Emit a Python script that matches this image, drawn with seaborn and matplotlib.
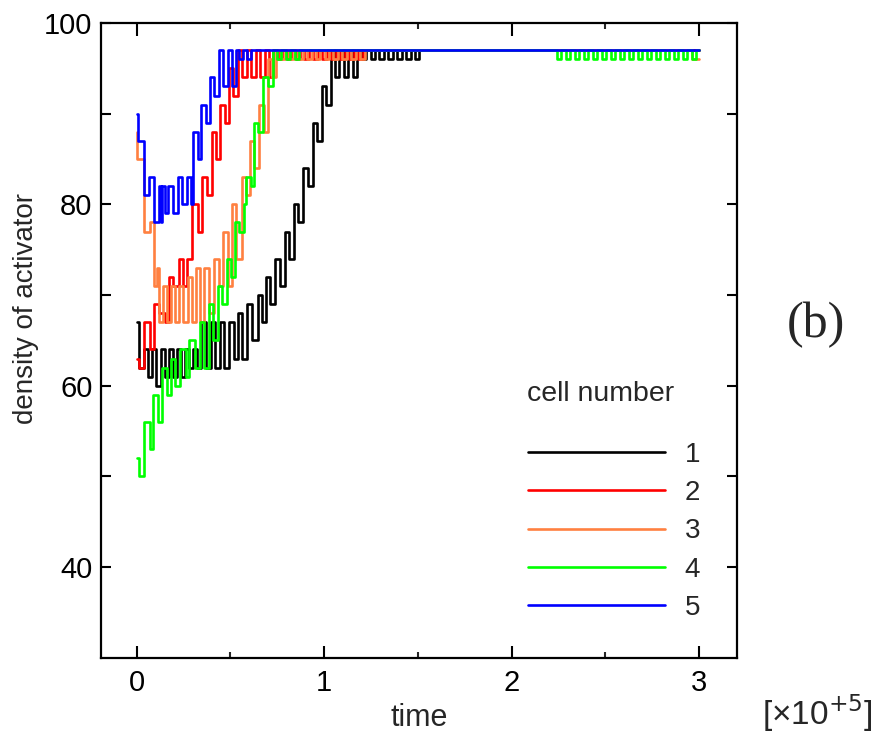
import matplotlib
matplotlib.use("Agg")
import matplotlib.pyplot as plt
import seaborn as sns
import pandas as pd
from matplotlib.lines import Line2D

# ---------------- data (time in units of 1e5) ----------------
cells = ["1", "2", "3", "4", "5"]
colors = ["#000000", "#ff0000", "#ff8040", "#00ff00", "#0000ff"]

t1 = [0.000, 0.012, 0.040, 0.062, 0.085, 0.105, 0.128, 0.150, 0.172, 0.193, 0.215, 0.237,
      0.258, 0.280, 0.300, 0.322, 0.345, 0.368, 0.395, 0.418, 0.445, 0.468, 0.495, 0.518,
      0.540, 0.563, 0.590, 0.613, 0.645, 0.668, 0.690, 0.713, 0.740, 0.763, 0.790, 0.813,
      0.840, 0.863, 0.890, 0.913, 0.940, 0.963, 0.988, 1.012, 1.035, 1.058, 1.082, 1.105,
      1.130, 1.152, 1.178, 1.200, 1.225, 1.248, 1.272, 1.295, 1.320, 1.343, 1.368, 1.390,
      1.415, 1.438, 1.462, 1.485, 1.505, 3.000]
v1 = [67, 62, 64, 61, 64, 60, 64, 61, 64, 61, 64, 61,
      64, 62, 64, 62, 67, 62, 67, 62, 67, 62, 67, 63,
      68, 63, 69, 65, 70, 67, 72, 69, 74, 71, 77, 74,
      80, 78, 84, 82, 89, 87, 93, 91, 97, 94, 97, 94,
      97, 94, 97, 96, 97, 96, 97, 96, 97, 96, 97, 96,
      97, 96, 97, 96, 97, 97]

t2 = [0.000, 0.012, 0.040, 0.070, 0.095, 0.120, 0.150, 0.172, 0.197, 0.225, 0.247, 0.270,
      0.297, 0.325, 0.350, 0.375, 0.400, 0.425, 0.447, 0.470, 0.495, 0.515, 0.540, 0.563,
      0.587, 0.610, 0.635, 0.658, 0.683, 0.705, 0.730, 0.753, 0.778, 0.800, 0.825, 0.848,
      0.873, 0.895, 0.920, 0.943, 0.968, 0.990, 1.015, 1.038, 1.063, 1.085, 1.110, 1.133,
      1.158, 1.180, 1.205, 3.000]
v2 = [63, 62, 67, 64, 69, 68, 67, 72, 71, 74, 71, 74,
      80, 77, 83, 81, 88, 85, 91, 89, 95, 92, 97, 94,
      97, 94, 97, 94, 97, 94, 97, 96, 97, 96, 97, 96,
      97, 96, 97, 96, 97, 96, 97, 96, 97, 96, 97, 96,
      97, 96, 97, 97]

t3 = [0.000, 0.005, 0.040, 0.072, 0.095, 0.110, 0.122, 0.140, 0.160, 0.185, 0.205, 0.228,
      0.250, 0.272, 0.295, 0.318, 0.340, 0.362, 0.385, 0.415, 0.437, 0.462, 0.485, 0.510,
      0.532, 0.560, 0.583, 0.605, 0.628, 0.655, 0.678, 0.700, 0.722, 0.745, 0.768, 0.790,
      0.813, 0.838, 0.860, 0.885, 0.908, 0.933, 0.955, 0.980, 1.003, 1.028, 1.050, 1.075,
      1.098, 1.123, 1.145, 1.170, 1.193, 1.218, 2.960, 3.000]
v3 = [88, 85, 77, 78, 71, 73, 67, 71, 67, 71, 67, 71,
      67, 72, 67, 73, 67, 73, 68, 74, 71, 77, 71, 80,
      74, 83, 81, 87, 84, 91, 88, 96, 94, 97, 96, 97,
      96, 97, 96, 97, 96, 97, 96, 97, 96, 97, 96, 97,
      96, 97, 96, 97, 96, 97, 96, 96]

t4 = [0.000, 0.012, 0.040, 0.070, 0.090, 0.112, 0.135, 0.165, 0.185, 0.207, 0.230, 0.262,
      0.280, 0.312, 0.340, 0.362, 0.385, 0.410, 0.435, 0.458, 0.480, 0.503, 0.525, 0.548,
      0.572, 0.585, 0.610, 0.625, 0.650, 0.675, 0.700, 0.725, 0.748, 0.772, 0.795, 0.820,
      0.843, 0.865, 2.240, 2.262, 2.288, 2.310, 2.336, 2.358, 2.384, 2.406, 2.432, 2.454,
      2.480, 2.502, 2.528, 2.550, 2.576, 2.598, 2.624, 2.646, 2.672, 2.694, 2.720, 2.742,
      2.768, 2.790, 2.816, 2.838, 2.864, 2.886, 2.912, 2.934, 2.960, 2.982, 3.000]
v4 = [52, 50, 56, 53, 59, 56, 62, 59, 63, 60, 64, 61,
      65, 62, 67, 62, 69, 65, 71, 69, 74, 72, 78, 77,
      80, 83, 82, 89, 88, 94, 93, 97, 96, 97, 96, 97,
      96, 97, 96, 97, 96, 97, 96, 97, 96, 97, 96, 97,
      96, 97, 96, 97, 96, 97, 96, 97, 96, 97, 96, 97,
      96, 97, 96, 97, 96, 97, 96, 97, 96, 97, 97]

t5 = [0.000, 0.010, 0.040, 0.068, 0.095, 0.118, 0.128, 0.138, 0.150, 0.170, 0.195, 0.222,
      0.245, 0.270, 0.290, 0.300, 0.325, 0.345, 0.370, 0.390, 0.412, 0.440, 0.462, 0.485,
      0.510, 0.530, 0.545, 0.565, 0.590, 0.612, 3.000]
v5 = [90, 87, 81, 83, 78, 82, 78, 82, 79, 82, 79, 83,
      80, 83, 80, 88, 85, 91, 89, 94, 92, 97, 93, 97,
      93, 97, 96, 97, 96, 97, 97]

times = [t1, t2, t3, t4, t5]
values = [v1, v2, v3, v4, v5]

x_ticks = [0, 1, 2, 3]
x_minor = [0.5, 1.5, 2.5]
y_ticks = [40, 60, 80, 100]
y_minor = [50, 70, 90]

# ---------------- plotting ----------------
sns.set_style("white")
plt.rcParams["font.family"] = ["Liberation Sans", "DejaVu Sans"]
narrow = ["Liberation Sans Narrow", "Liberation Sans", "DejaVu Sans"]

fig = plt.figure(figsize=(8.93, 7.4), dpi=100)
ax = fig.add_axes([0.113, 0.111, 0.712, 0.858])

LW = 1.9
for t, v, c in zip(times, values, colors):
    df = pd.DataFrame({"time": t, "density": v})
    sns.lineplot(data=df, x="time", y="density", ax=ax, color=c, lw=LW,
                 drawstyle="steps-post", estimator=None, sort=False, legend=False)

ax.set_xlim(-0.19, 3.2)
ax.set_ylim(30, 100)
ax.set_xticks(x_ticks)
ax.set_xticks(x_minor, minor=True)
ax.set_yticks(y_ticks)
ax.set_yticks(y_minor, minor=True)
ax.set_xticklabels([str(x) for x in x_ticks])
ax.set_yticklabels([str(y) for y in y_ticks])

for s in ax.spines.values():
    s.set_visible(True)
    s.set_color("black")
    s.set_linewidth(1.6)

ax.tick_params(axis="x", which="major", direction="in", top=True, bottom=True,
               length=9, width=1.5, pad=8, labelsize=21, colors="black")
ax.tick_params(axis="x", which="minor", direction="in", top=True, bottom=True,
               length=4.5, width=1.5)
ax.tick_params(axis="y", which="both", direction="in", left=True, right=True,
               length=7, width=1.5, pad=6, labelsize=21, colors="black")
for lab in ax.get_xticklabels() + ax.get_yticklabels():
    lab.set_fontfamily(narrow)

ax.set_xlabel("time", fontsize=22, family=narrow, labelpad=4)
ax.set_ylabel("")
fig.text(26 / 893, 1 - 308 / 740, "density of activator", fontsize=20,
         rotation=90, ha="center", va="center")

# legend
handles = [Line2D([0], [0], color=c, lw=LW) for c in colors]
leg = ax.legend(handles, cells, loc="upper left", bbox_to_anchor=(0.671, 0.34),
                frameon=False, fontsize=20, handlelength=4.95, handletextpad=0.7,
                labelspacing=0.44, borderpad=0, borderaxespad=0)
fig.text(527 / 893, 1 - 394 / 740, "cell number", fontsize=20.5, ha="left", va="center")

fig.text(816 / 893, 1 - 325 / 740, "(b)", fontsize=36, family=["Liberation Serif", "DejaVu Serif"],
         ha="center", va="center")
fig.text(762 / 893, 1 - 713 / 740, "[×10$^{+5}$]", fontsize=24, family=narrow,
         ha="left", va="center")

fig.savefig("out.png", dpi=100)
